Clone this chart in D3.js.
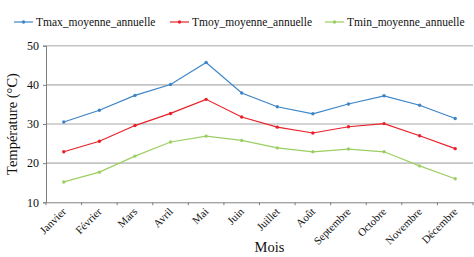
<!DOCTYPE html>
<html><head><meta charset="utf-8">
<script src="https://cdn.jsdelivr.net/npm/d3@7"></script>
<style>body{margin:0;background:#fff}svg text{font-family:"Liberation Serif","Times New Roman",serif !important}</style>
</head><body>
<script>
const months = ["Janvier","Février","Mars","Avril","Mai","Juin","Juillet","Août","Septembre","Octobre","Novembre","Décembre"];
const seriesNames = ["Tmax_moyenne_annuelle","Tmoy_moyenne_annuelle","Tmin_moyenne_annuelle"];
const tmax = [30.5,33.5,37.3,40.1,45.7,37.9,34.4,32.6,35.1,37.2,34.8,31.4];
const tmoy = [22.9,25.6,29.6,32.7,36.3,31.8,29.2,27.7,29.3,30.1,27.0,23.7];
const tmin = [15.2,17.7,21.8,25.4,26.9,25.8,23.9,22.9,23.6,22.9,19.3,16.0];
const yTicks = [10,20,30,40,50];
const colors = ["#3d85c6","#e8202a","#9ccf62"];
const seriesValues = [tmax,tmoy,tmin];

const W=474,H=257;
const svg=d3.select("body").append("svg").attr("width",W).attr("height",H);
const m={l:46,r:473,t:45.7,b:202.3};
const x=d3.scaleBand().domain(months).range([m.l,m.r]);
const y=d3.scaleLinear().domain([10,50]).range([m.b,m.t]);

// gridlines
svg.append("g").selectAll("line").data(yTicks.filter(d=>d>10)).join("line")
 .attr("x1",m.l).attr("x2",m.r).attr("y1",d=>y(d)).attr("y2",d=>y(d))
 .attr("stroke","#c4c4c4").attr("stroke-width",1.6);

// y axis
const ya=svg.append("g").attr("transform",`translate(${m.l},0)`)
 .call(d3.axisLeft(y).tickValues(yTicks).tickSize(3).tickPadding(4));
ya.select(".domain").attr("stroke","#7f7f7f");
ya.selectAll(".tick line").attr("stroke","#7f7f7f");
ya.selectAll("text").attr("font-size",12).attr("fill","#111");

// x axis
const xa=svg.append("g").attr("transform",`translate(0,${m.b})`)
 .call(d3.axisBottom(x).tickSize(0).tickFormat(""));
xa.select(".domain").attr("stroke","#7f7f7f");
xa.selectAll(".tickmark").data(d3.range(months.length+1)).join("line")
 .attr("x1",i=>m.l+i*x.step()).attr("x2",i=>m.l+i*x.step())
 .attr("y1",0).attr("y2",3).attr("stroke","#7f7f7f");
svg.append("g").selectAll("text").data(months).join("text")
 .attr("transform",d=>`translate(${x(d)+x.bandwidth()/2+3},${m.b+10}) rotate(-45)`)
 .attr("text-anchor","end").attr("font-size",11).attr("fill","#111").text(d=>d);

// lines
const line=d3.line().x((d,i)=>x(months[i])+x.bandwidth()/2).y(d=>y(d));
seriesValues.forEach((vals,k)=>{
  svg.append("path").attr("d",line(vals)).attr("fill","none").attr("stroke",colors[k]).attr("stroke-width",1.2);
  svg.append("g").selectAll("circle").data(vals).join("circle")
   .attr("cx",(d,i)=>x(months[i])+x.bandwidth()/2).attr("cy",d=>y(d)).attr("r",1.7).attr("fill",colors[k]);
});

// legend
const lx=[14,170,325];
seriesNames.forEach((n,k)=>{
  const g=svg.append("g").attr("transform",`translate(${lx[k]},22)`);
  g.append("line").attr("x1",0).attr("x2",19).attr("stroke",colors[k]).attr("stroke-width",1.2);
  g.append("circle").attr("cx",9.5).attr("r",1.7).attr("fill",colors[k]);
  g.append("text").attr("x",22).attr("y",4).attr("font-size",11.5).attr("fill","#111").text(n);
});

// axis titles
svg.append("text").attr("transform",`translate(17,${(m.t+m.b)/2}) rotate(-90)`)
 .attr("text-anchor","middle").attr("font-size",14.5).attr("fill","#111").text("Température (°C)");
svg.append("text").attr("x",(m.l+m.r)/2+10).attr("y",252).attr("text-anchor","middle")
 .attr("font-size",14.5).attr("fill","#111").text("Mois");
</script>
</body></html>
